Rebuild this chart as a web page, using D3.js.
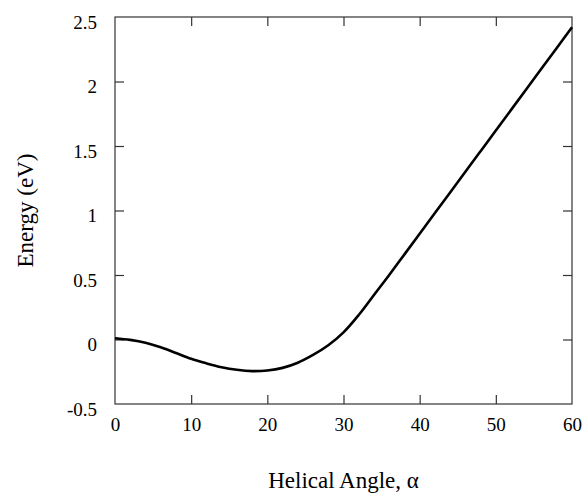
<!DOCTYPE html>
<html>
<head>
<meta charset="utf-8">
<script src="https://cdn.jsdelivr.net/npm/d3@7"></script>
<style>
  html, body { margin: 0; padding: 0; background: #fff; }
  svg { display: block; }
  svg text { font-family: "Liberation Serif", "Times New Roman", "DejaVu Serif", serif !important; fill: #000; }
</style>
</head>
<body>
<script>
const angles = [0, 2, 4, 6, 8, 10, 12, 14, 16, 18, 20, 22, 24, 26, 28, 30, 32, 34, 36, 38, 40, 42, 44, 46, 48, 50, 52, 54, 56, 58, 60];
const energies = [0.01, -0.003, -0.025, -0.06, -0.105, -0.15, -0.185, -0.215, -0.235, -0.245, -0.24, -0.22, -0.18, -0.12, -0.045, 0.055, 0.19, 0.345, 0.5, 0.66, 0.82, 0.98, 1.14, 1.3, 1.46, 1.62, 1.78, 1.94, 2.1, 2.26, 2.42];
const xTicks = [0, 10, 20, 30, 40, 50, 60];
const yTicks = [-0.5, 0, 0.5, 1, 1.5, 2, 2.5];
const xTitle = "Helical Angle, \u03B1";
const yTitle = "Energy (eV)";

const W = 584, H = 497;
const m = { left: 115, right: 12, top: 17, bottom: 93 };
const svg = d3.select("body").append("svg").attr("width", W).attr("height", H);

const x = d3.scaleLinear().domain([0, 60]).range([m.left, W - m.right]);
const y = d3.scaleLinear().domain([-0.5, 2.5]).range([H - m.bottom, m.top]);

const axisColor = "#333";
svg.append("rect")
  .attr("x", x(0)).attr("y", y(2.5))
  .attr("width", x(60) - x(0)).attr("height", y(-0.5) - y(2.5))
  .attr("fill", "none").attr("stroke", axisColor).attr("stroke-width", 1.2);

const tl = 9;
const serif = "'Liberation Serif', serif";
function styleAxis(g) {
  g.attr("font-family", serif);
  g.select(".domain").remove();
  g.selectAll(".tick line").attr("stroke", axisColor).attr("stroke-width", 1.2);
}
const bx = svg.append("g").attr("transform", `translate(0,${y(-0.5)})`)
  .call(d3.axisBottom(x).tickValues(xTicks).tickSize(-tl).tickPadding(14).tickFormat(d3.format("d")));
styleAxis(bx);
bx.selectAll(".tick line").filter(d => d === 0 || d === 60).remove();
bx.selectAll("text").style("font-size", "19px").style("font-family", serif).attr("fill", "#000");

const tx = svg.append("g").attr("transform", `translate(0,${y(2.5)})`)
  .call(d3.axisTop(x).tickValues(xTicks.slice(1, -1)).tickSize(-tl).tickFormat(""));
styleAxis(tx);

const ly = svg.append("g").attr("transform", `translate(${x(0)},0)`)
  .call(d3.axisLeft(y).tickValues(yTicks).tickSize(-tl).tickPadding(18).tickFormat(d => String(d)));
styleAxis(ly);
ly.selectAll(".tick line").filter(d => d === -0.5 || d === 2.5).remove();
ly.selectAll("text").style("font-size", "19px").style("font-family", serif).attr("fill", "#000").attr("dy", "0.6em");

const ry = svg.append("g").attr("transform", `translate(${x(60)},0)`)
  .call(d3.axisRight(y).tickValues(yTicks.slice(1, -1)).tickSize(-tl).tickFormat(""));
styleAxis(ry);

const line = d3.line().x((d, i) => x(angles[i])).y(d => y(d)).curve(d3.curveCatmullRom.alpha(0.5));
svg.append("path").datum(energies)
  .attr("d", line)
  .attr("fill", "none").attr("stroke", "#000").attr("stroke-width", 2.6);

svg.append("text").attr("x", (x(0) + x(60)) / 2).attr("y", 488)
  .attr("text-anchor", "middle").style("font-size", "23px").style("font-family", serif).text(xTitle);
svg.append("text")
  .attr("transform", `translate(33,${(y(-0.5) + y(2.5)) / 2}) rotate(-90)`)
  .attr("text-anchor", "middle").style("font-size", "23px").style("font-family", serif).text(yTitle);
</script>
</body>
</html>
